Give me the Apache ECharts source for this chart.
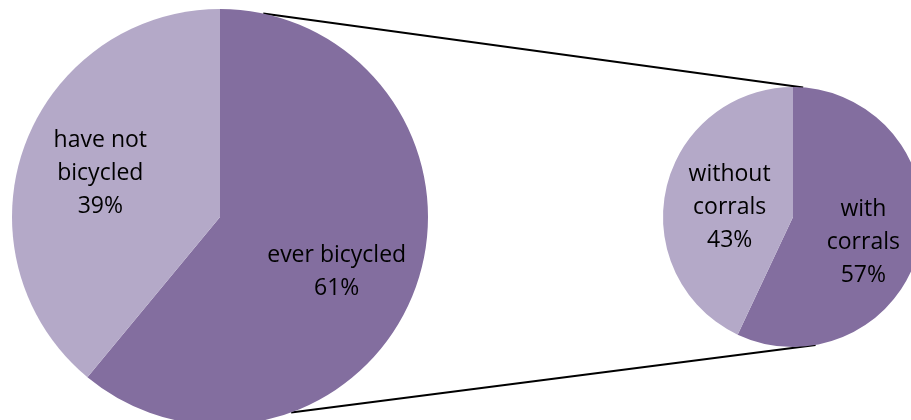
<!DOCTYPE html>
<html>
<head>
<meta charset="utf-8">
<style>
  html, body { margin: 0; padding: 0; background: #fff; }
  #main { width: 911px; height: 420px; }
</style>
<script src="https://cdn.jsdelivr.net/npm/echarts@6/dist/echarts.min.js"></script>
</head>
<body>
<div id="main"></div>
<script>
// data
var bigNames = ['ever bicycled', 'have not\nbicycled']
var bigValues = [61, 39]
var smallNames = ['with\ncorrals', 'without\ncorrals']
var smallValues = [57, 43]
var darkColor = '#836E9F', lightColor = '#B4A9C8'

var chart = echarts.init(document.getElementById('main'))

// pie geometry (pixels)
var bigC = [220, 217], bigR = 208
var smallC = [793, 217], smallR = 130

// point on a circle, angle in degrees clockwise from 12 o'clock
function onCircle(c, r, deg) {
    var a = deg * Math.PI / 180
    return [c[0] + r * Math.sin(a), c[1] - r * Math.cos(a)]
}

var p1 = onCircle(bigC, bigR, 12), p2 = onCircle(smallC, smallR, 4.5)
var p3 = onCircle(bigC, bigR, 160), p4 = onCircle(smallC, smallR, 170)

function buildData(names, values) {
    return values.map(function (v, i) {
        return {
            name: names[i],
            value: v,
            itemStyle: { color: i == 0 ? darkColor : lightColor }
        }
    })
}

var labelFont = {
    show: true,
    position: 'inside',
    color: '#000',
    fontFamily: 'Open Sans',
    fontSize: 23,
    lineHeight: 33,
    formatter: function (p) { return p.name + '\n' + p.value + '%' }
}

// nudge labels to where the original puts them
var bigShift = [[16, 19], [-19, -7]]
var smallShift = [[4, 11], [3, 5]]

var option = {
    animation: false,
    graphic: [
        { type: 'line', shape: { x1: p1[0], y1: p1[1], x2: p2[0], y2: p2[1] }, style: { stroke: '#000', lineWidth: 2 }, z: 0 },
        { type: 'line', shape: { x1: p3[0], y1: p3[1], x2: p4[0], y2: p4[1] }, style: { stroke: '#000', lineWidth: 2 }, z: 0 }
    ],
    series: [
        {
            type: 'pie',
            center: bigC,
            radius: bigR,
            startAngle: 90,
            clockwise: true,
            silent: true,
            label: labelFont,
            labelLine: { show: false },
            labelLayout: function (p) {
                return { dx: bigShift[p.dataIndex][0], dy: bigShift[p.dataIndex][1] }
            },
            itemStyle: { borderWidth: 0 },
            data: buildData(bigNames, bigValues)
        },
        {
            type: 'pie',
            center: smallC,
            radius: smallR,
            startAngle: 90,
            clockwise: true,
            silent: true,
            label: labelFont,
            labelLine: { show: false },
            labelLayout: function (p) {
                return { dx: smallShift[p.dataIndex][0], dy: smallShift[p.dataIndex][1] }
            },
            itemStyle: { borderWidth: 0 },
            data: buildData(smallNames, smallValues)
        }
    ]
}

chart.setOption(option)
</script>
</body>
</html>
